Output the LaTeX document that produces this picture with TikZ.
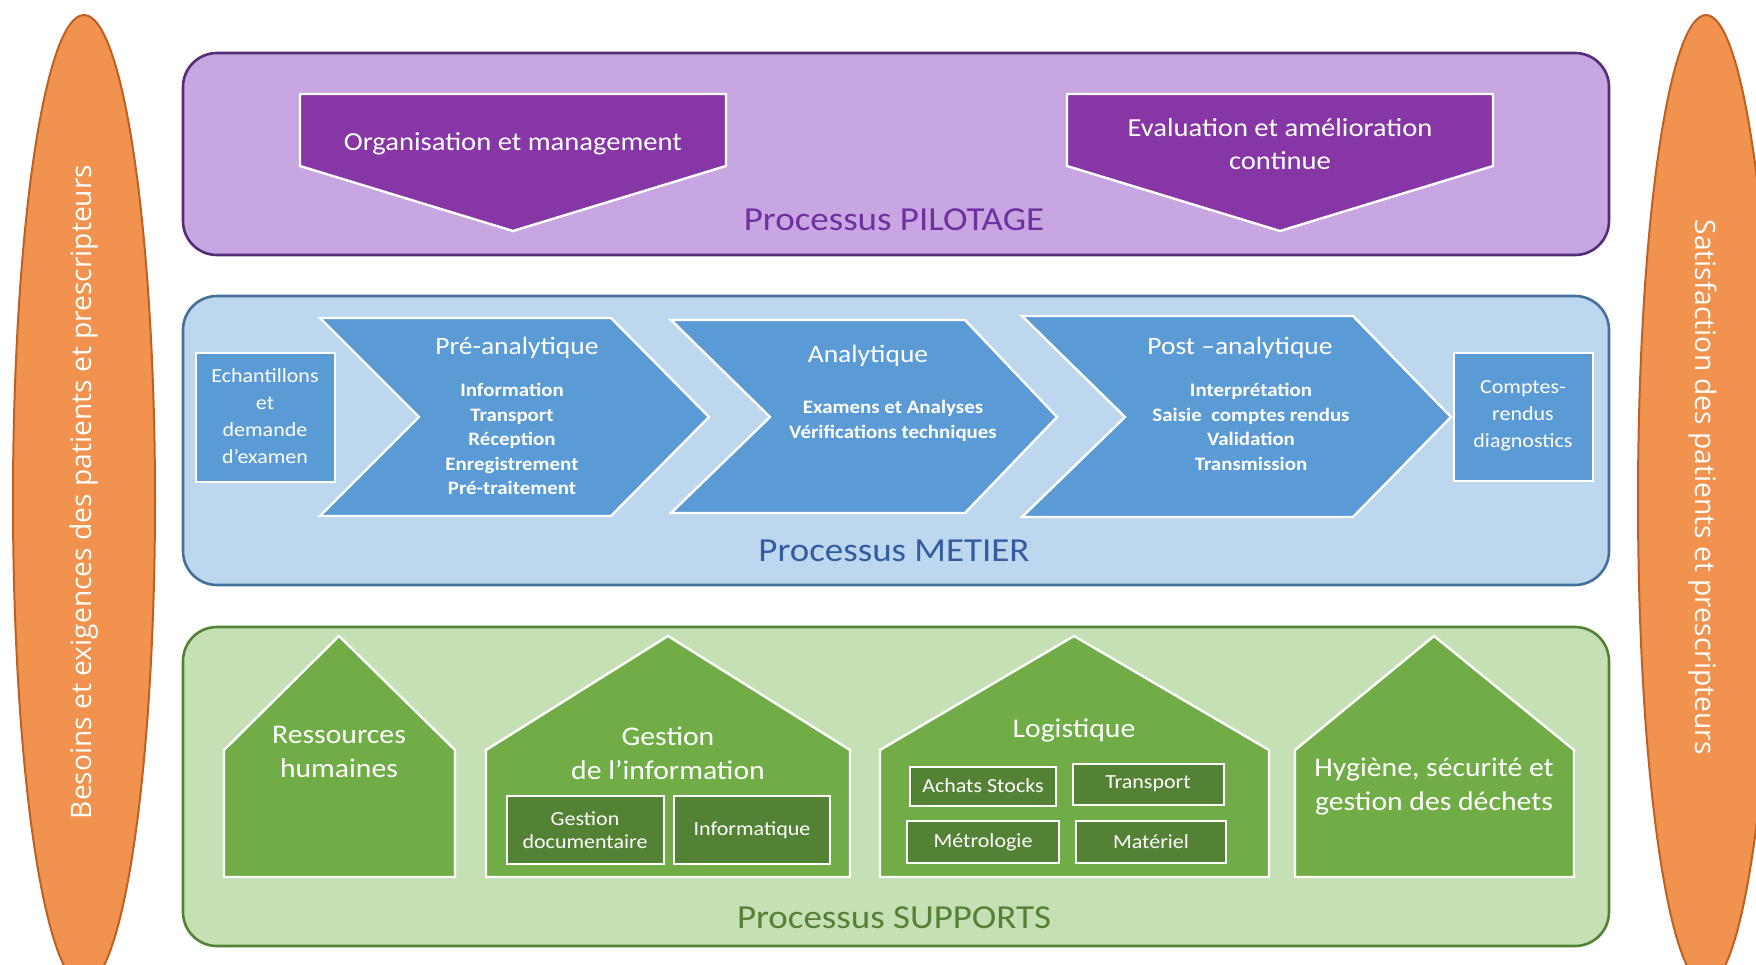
\documentclass[tikz,border=0pt]{standalone}
\usepackage{fontspec}
\setmainfont{Carlito}[FakeStretch=1.1]
\newfontfamily\ovalfont{Open Sans}
\definecolor{oval}{RGB}{241,146,78}
\definecolor{ovalline}{RGB}{190,95,35}
\definecolor{pilotbg}{RGB}{199,166,226}
\definecolor{pilotline}{RGB}{84,45,118}
\definecolor{pilotfill}{RGB}{135,54,166}
\definecolor{pilottext}{RGB}{112,48,160}
\definecolor{metierbg}{RGB}{189,215,238}
\definecolor{metierline}{RGB}{65,113,156}
\definecolor{metierfill}{RGB}{91,155,213}
\definecolor{metiertext}{RGB}{52,92,160}
\definecolor{supportbg}{RGB}{197,224,180}
\definecolor{supportline}{RGB}{84,130,53}
\definecolor{supportfill}{RGB}{112,173,71}
\definecolor{supportdark}{RGB}{84,130,53}

\begin{document}
\begin{tikzpicture}[x=0.5pt, y=-0.5pt,
  panel/.style={line width=1.3pt, rounded corners=17pt},
  whiteedge/.style={draw=white, line width=1.2pt},
  headtxt/.style={text=white, align=center, font=\fontsize{13}{16.5}\selectfont},
  listtxt/.style={text=white, align=center, font=\bfseries\fontsize{9.5}{12.3}\selectfont},
  smalltxt/.style={text=white, align=center, font=\fontsize{10}{13.5}\selectfont},
  innertxt/.style={text=white, align=center, font=\fontsize{10}{11.8}\selectfont},
  proctxt/.style={font=\fontsize{16.8}{20}\selectfont},
  ovaltxt/.style={text=white, font=\ovalfont\fontsize{14.1}{17}\selectfont}]
\useasboundingbox (0,0) rectangle (1756,964);
\clip (0,0) rectangle (1756,964);
% ovales
\filldraw [fill=oval, draw=ovalline, line width=1pt] (84,500) ellipse [x radius=35.5pt, y radius=242.5pt];
\filldraw [fill=oval, draw=ovalline, line width=1pt] (1706,500) ellipse [x radius=34pt, y radius=242.5pt];
\node [ovaltxt, rotate=90] (besoins) at (84,492) {Besoins et exigences des patients et prescripteurs};
\node [ovaltxt, rotate=-90] (satisf) at (1703,487) {Satisfaction des patients et prescripteurs};
% pilotage
\filldraw [panel, fill=pilotbg, draw=pilotline] (183,53) rectangle (1609,255);
\filldraw [whiteedge, fill=pilotfill] (300,94) -- (726,94) -- (726,166) -- (513,231) -- (300,166) -- cycle;
\filldraw [whiteedge, fill=pilotfill] (1067,94) -- (1493,94) -- (1493,166) -- (1280,231) -- (1067,166) -- cycle;
\node [headtxt] (orga) at (513,144) {Organisation et management};
\node [headtxt] (eval) at (1280,144) {Evaluation et amélioration\\continue};
\node [proctxt, text=pilottext] (pilotage) at (894,220) {Processus PILOTAGE};
% metier
\filldraw [panel, fill=metierbg, draw=metierline] (183,296) rectangle (1609,585);
\filldraw [whiteedge, fill=metierfill] (196,353) rectangle (335,482);
\filldraw [whiteedge, fill=metierfill] (1454,353) rectangle (1593,481);
\filldraw [whiteedge, fill=metierfill] (320,318) -- (611,318) -- (709,417) -- (611,516) -- (320,516) -- (419,417) -- cycle;
\filldraw [whiteedge, fill=metierfill] (671,320) -- (965,320) -- (1057,417) -- (965,513) -- (671,513) -- (770,417) -- cycle;
\filldraw [whiteedge, fill=metierfill] (1022,316) -- (1353,316) -- (1451,417) -- (1353,517) -- (1022,517) -- (1125,417) -- cycle;
\node [smalltxt] (echant) at (265,416) {Echantillons\\et\\demande\\d’examen};
\node [smalltxt] (comptes) at (1523,416) {Comptes-\\rendus\\diagnostics};
\node [headtxt, font=\fontsize{12.5}{15}\selectfont] (pre) at (517,348) {Pré-analytique};
\node [listtxt] (prelist) at (512,439) {Information\\Transport\\Réception\\Enregistrement\\Pré-traitement};
\node [headtxt, font=\fontsize{12.5}{15}\selectfont] (ana) at (868,356) {Analytique};
\node [listtxt] (analist) at (893,421) {Examens et Analyses\\Vérifications techniques};
\node [headtxt, font=\fontsize{12.5}{15}\selectfont] (post) at (1240,348) {Post –analytique};
\node [listtxt] (postlist) at (1251,427) {Interprétation\\Saisie\ \ comptes rendus\\Validation\\Transmission};
\node [proctxt, text=metiertext] (metier) at (894,551) {Processus METIER};
% supports
\filldraw [panel, fill=supportbg, draw=supportline] (183,627) rectangle (1609,946);
\foreach \a/\b/\c in {224/339/455, 486/668/850, 880/1074/1269, 1295/1434/1574}
  \filldraw [whiteedge, fill=supportfill] (\a,877) -- (\a,750) -- (\b,636) -- (\c,750) -- (\c,877) -- cycle;
\foreach \a/\b/\c/\d in {507/796/664/864, 674/796/830/864, 910/767/1056/806, 1073/764/1224/805, 907/821/1059/863, 1076/821/1226/863}
  \filldraw [whiteedge, fill=supportdark] (\a,\b) rectangle (\c,\d);
\node [headtxt, font=\fontsize{13.5}{17}\selectfont] (rh) at (339,752) {Ressources\\humaines};
\node [headtxt, font=\fontsize{13.5}{17}\selectfont] (info) at (668,753) {Gestion\\de l’information};
\node [headtxt, font=\fontsize{13.5}{17}\selectfont] (logis) at (1074,730) {Logistique};
\node [headtxt, font=\fontsize{13.5}{17}\selectfont] (hyg) at (1434,787) {Hygiène, sécurité et\\gestion des déchets};
\node [innertxt] (gdoc) at (585,830) {Gestion\\documentaire};
\node [innertxt] (infor) at (752,830) {Informatique};
\node [innertxt] (achats) at (983,786) {Achats Stocks};
\node [innertxt] (transp) at (1148,784) {Transport};
\node [innertxt] (metro) at (983,842) {Métrologie};
\node [innertxt] (mater) at (1151,842) {Matériel};
\node [proctxt, text=supportline] (supports) at (894,918) {Processus SUPPORTS};
\end{tikzpicture}
\end{document}
